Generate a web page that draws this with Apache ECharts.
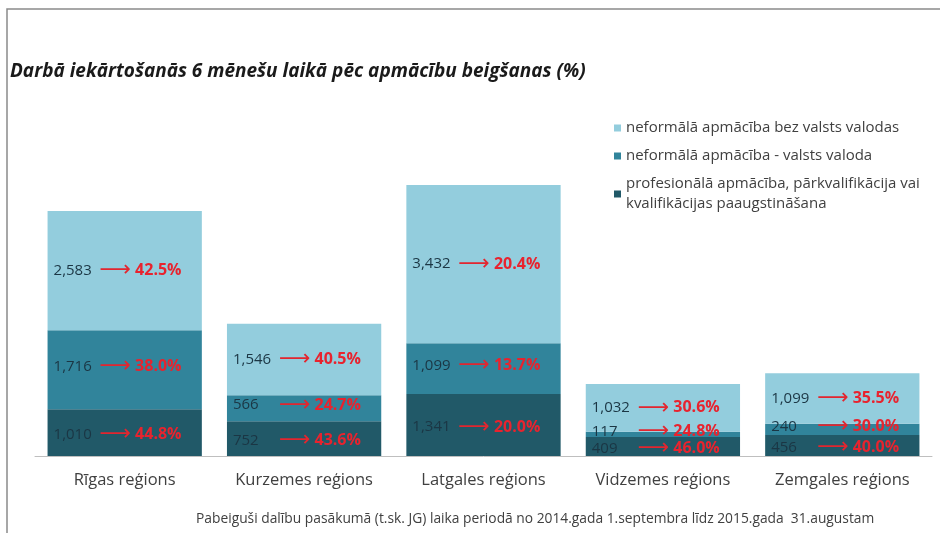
<!DOCTYPE html>
<html><head><meta charset="utf-8">
<script src="https://cdn.jsdelivr.net/npm/echarts@6/dist/echarts.min.js"></script>
<style>html,body{margin:0;padding:0;background:#fff}#c{width:940px;height:533px}</style>
</head><body><div id="c"></div>
<script>
const categories = ['Rīgas reģions','Kurzemes reģions','Latgales reģions','Vidzemes reģions','Zemgales reģions'];
const seriesNames = ['neformālā apmācība bez valsts valodas','neformālā apmācība - valsts valoda','profesionālā apmācība, pārkvalifikācija vai\nkvalifikācijas paaugstināšana'];
const profValues = [1010, 752, 1341, 409, 456];
const valstsValues = [1716, 566, 1099, 117, 240];
const bezValues = [2583, 1546, 3432, 1032, 1099];
const profPct = ['44.8%','43.6%','20.0%','46.0%','40.0%'];
const valstsPct = ['38.0%','24.7%','13.7%','24.8%','30.0%'];
const bezPct = ['42.5%','40.5%','20.4%','30.6%','35.5%'];
const colors = ['#93CDDD','#31849B','#215968'];
const FONT = '"Open Sans", sans-serif';

function fmt(v){ return v.toLocaleString('en-US'); }
function mkLabel(pcts, offY){
  return {
    show: true, position: 'insideLeft', distance: 6, offset: [0, offY],
    formatter: p => '{v|' + fmt(p.value) + '}{a|⟶}{p|' + pcts[p.dataIndex] + '}',
    rich: {
      v: {color: '#1b3644', fontSize: 15, fontFamily: FONT, width: 46},
      a: {color: '#e3262f', fontSize: 22, fontFamily: 'DejaVu Sans', padding: [0, 4, 0, 0]},
      p: {color: '#e8232e', fontSize: 16, fontWeight: 'bold', fontFamily: FONT}
    }
  };
}
const chart = echarts.init(document.getElementById('c'));
chart.setOption({
  animation: false,
  backgroundColor: '#fff',
  graphic: [{type: 'rect', shape: {x: 7, y: 9, width: 960, height: 600}, style: {fill: 'none', stroke: '#8a8a8a', lineWidth: 1.5}, silent: true}],
  title: [
    {text: 'Darbā iekārtošanās 6 mēnešu laikā pēc apmācību beigšanas (%)', left: 5, top: 57,
     textStyle: {fontFamily: FONT, fontSize: 19, fontStyle: 'italic', fontWeight: 'bold', color: '#1a1a1a'}},
    {text: 'Pabeiguši dalību pasākumā (t.sk. JG) laika periodā no 2014.gada 1.septembra līdz 2015.gada  31.augustam', left: 191, top: 507,
     textStyle: {fontFamily: FONT, fontSize: 13.8, fontWeight: 'normal', color: '#404040'}}
  ],
  legend: {
    orient: 'vertical', left: 609, top: 113, itemGap: 8, icon: 'rect', itemWidth: 7, itemHeight: 7,
    data: seriesNames,
    textStyle: {fontFamily: FONT, fontSize: 15, color: '#404040', lineHeight: 20}
  },
  grid: {left: 35, right: 8, top: 179, bottom: 77},
  xAxis: {
    type: 'category', data: categories,
    axisLine: {lineStyle: {color: '#bfbfbf'}}, axisTick: {show: false},
    axisLabel: {fontFamily: FONT, fontSize: 16.5, color: '#404040', margin: 16, interval: 0}
  },
  yAxis: {type: 'value', min: 0, max: 6000, show: false, splitLine: {show: false}},
  series: [
    {name: seriesNames[2], type: 'bar', stack: 's', data: profValues, barCategoryGap: '14%', itemStyle: {color: colors[2]}, label: mkLabel(profPct, 2)},
    {name: seriesNames[1], type: 'bar', stack: 's', data: valstsValues, itemStyle: {color: colors[1]}, label: mkLabel(valstsPct, -3)},
    {name: seriesNames[0], type: 'bar', stack: 's', data: bezValues, itemStyle: {color: colors[0]}, label: mkLabel(bezPct, 0)}
  ]
});
</script></body></html>
